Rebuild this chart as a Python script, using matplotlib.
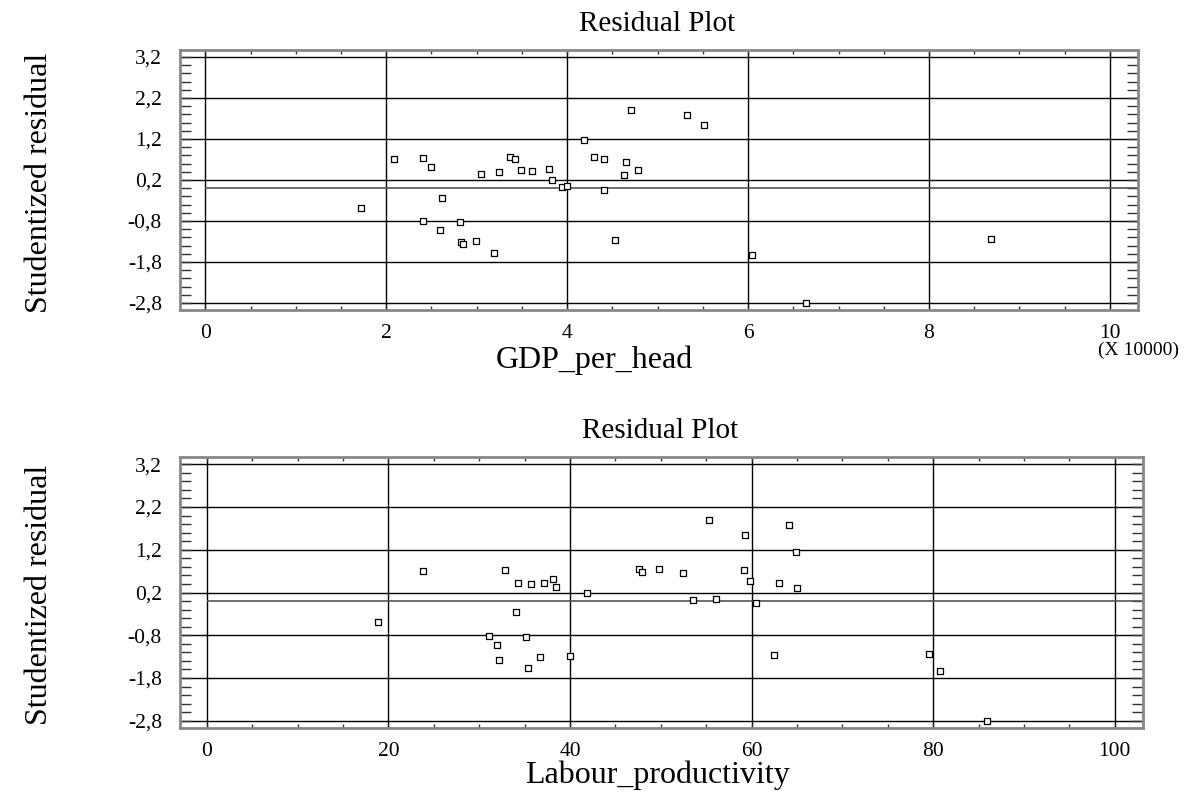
import matplotlib
matplotlib.use("Agg")
import matplotlib.pyplot as plt
from matplotlib.ticker import MultipleLocator, FuncFormatter

plt.rcParams['font.family'] = ['Liberation Serif', 'DejaVu Serif']

# Dados
gdp_per_head = [1.72, 2.09, 2.41, 2.50, 2.62, 2.41, 2.59, 2.82, 2.83, 2.85, 2.99, 3.19,
                3.05, 3.25, 3.37, 3.42, 3.49, 3.61, 3.80, 3.83, 3.94, 4.00, 4.19, 4.30,
                4.41, 4.65, 4.78, 4.63, 4.41, 4.53, 4.70, 5.33, 5.51, 6.04, 6.64, 8.69]
resid_gdp = [-0.48, 0.72, 0.74, 0.52, -0.24, -0.80, -1.03, -0.82, -1.31, -1.36, -1.29, -1.57,
             0.34, 0.39, 0.76, 0.70, 0.44, 0.43, 0.48, 0.21, 0.03, 0.06, 1.17, 0.75,
             0.72, 0.65, 0.44, 0.31, -0.04, -1.26, 1.91, 1.78, 1.55, -1.63, -2.80, -1.24]

labour_productivity = [18.83, 23.86, 32.85, 34.32, 35.68, 37.18, 38.17, 38.50, 41.92, 34.06,
                       31.09, 32.00, 35.13, 32.23, 36.74, 35.35, 40.01, 47.61, 47.98, 49.81,
                       52.49, 53.59, 56.12, 55.35, 59.32, 59.17, 59.87, 60.53, 64.16, 64.94,
                       63.00, 65.01, 62.51, 79.58, 80.79, 85.97]
resid_lab = [-0.48, 0.71, 0.72, 0.43, 0.39, 0.43, 0.51, 0.33, 0.20, -0.25,
             -0.81, -1.03, -0.84, -1.37, -1.32, -1.57, -1.29, 0.75, 0.68, 0.74,
             0.65, 0.02, 0.05, 1.90, 1.54, 0.72, 0.47, -0.05, 1.77, 1.15,
             0.43, 0.30, -1.26, -1.24, -1.63, -2.80]

y_ticks = [-2.8, -1.8, -0.8, 0.2, 1.2, 2.2, 3.2]
x_ticks_gdp = [0, 2, 4, 6, 8, 10]
x_ticks_lab = [0, 20, 40, 60, 80, 100]

W, H = 1199, 798
fig = plt.figure(figsize=(W / 100, H / 100), dpi=100)


def px_box(left, top, right, bottom):
    return [left / W, 1 - bottom / H, (right - left) / W, (bottom - top) / H]


virgula = FuncFormatter(lambda v, p: ('%.1f' % v).replace('.', ','))


def painel(ax, x, y, xticks, xlim, xminor):
    ax.set_xlim(*xlim)
    ax.set_ylim(-2.97, 3.37)
    ax.set_xticks(xticks)
    ax.set_yticks(y_ticks)
    ax.xaxis.set_minor_locator(MultipleLocator(xminor))
    ax.yaxis.set_minor_locator(MultipleLocator(0.2))
    ax.yaxis.set_major_formatter(virgula)
    ax.grid(True, which='major', color='black', linewidth=1.0)
    for s in ax.spines.values():
        s.set_color('#888888')
        s.set_linewidth(2)
    ax.tick_params(axis='both', which='both', direction='in', top=True, right=True,
                   labelsize=15.5, colors='black')
    ax.tick_params(axis='y', which='both', length=8, width=1, color='#333333', pad=13)
    ax.tick_params(axis='x', which='both', length=3, width=1, color='#333333', pad=10)
    ax.hlines(0, 0, xlim[1], color='#555555', linewidth=1.2)
    ax.scatter(x, y, marker='s', s=14, facecolors='white', edgecolors='black',
               linewidths=0.9, zorder=3)


ax1 = fig.add_axes(px_box(180, 50, 1138, 310))
painel(ax1, gdp_per_head, resid_gdp, x_ticks_gdp, (-0.28, 10.31), 0.5)

ax2 = fig.add_axes(px_box(180, 457, 1143, 728))
painel(ax2, labour_productivity, resid_lab, x_ticks_lab, (-2.94, 103.1), 5)

# Textos
fig.text(657 / W, 1 - 24 / H, 'Residual Plot', ha='center', va='center', fontsize=21)
fig.text(660 / W, 1 - 431 / H, 'Residual Plot', ha='center', va='center', fontsize=21)
fig.text(40 / W, 1 - 183 / H, 'Studentized residual', rotation=90, ha='center', va='center', fontsize=23)
fig.text(40 / W, 1 - 595 / H, 'Studentized residual', rotation=90, ha='center', va='center', fontsize=23)
fig.text(594 / W, 1 - 360 / H, 'GDP_per_head', ha='center', va='center', fontsize=23)
fig.text(658 / W, 1 - 775 / H, 'Labour_productivity', ha='center', va='center', fontsize=23)
fig.text(1138 / W, 1 - 350 / H, '(X 10000)', ha='center', va='center', fontsize=14)

plt.savefig('out.png', dpi=100)
